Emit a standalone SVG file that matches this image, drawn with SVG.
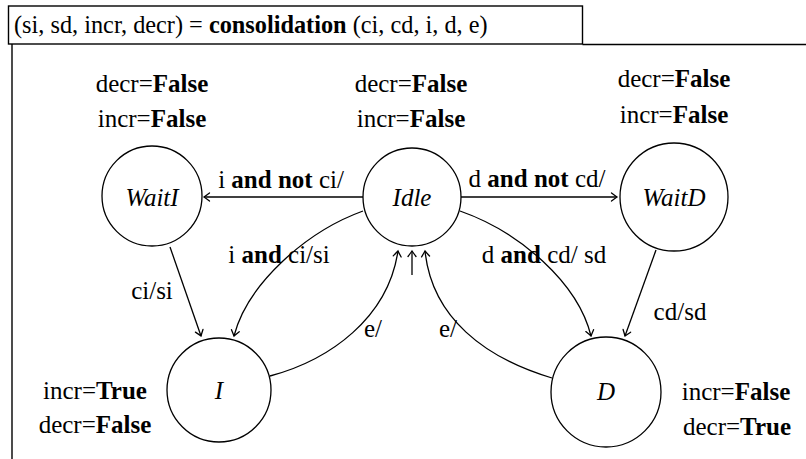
<svg xmlns="http://www.w3.org/2000/svg" width="806" height="459" viewBox="0 0 806 459">
<style>
text{font-family:"Liberation Serif","Times New Roman",serif;font-size:25px;fill:#000}
.t{font-size:24.3px}
.c{text-anchor:middle}
.b{font-weight:bold}
.it{font-style:italic}
.st{fill:#fff;stroke:#000;stroke-width:1.3}
.e{fill:none;stroke:#000;stroke-width:1.3}
.f{fill:none;stroke:#000;stroke-width:1.4}
</style>
<defs>
<marker id="ar" markerWidth="12" markerHeight="12" refX="0" refY="0" viewBox="-7 -6 9 12" orient="auto" markerUnits="userSpaceOnUse">
<path d="M-5.5,-4 Q-1.5,-1 0,0 Q-1.5,1 -5.5,4" fill="none" stroke="#000" stroke-width="1.3" stroke-linecap="round"/>
</marker>
</defs>
<g id="frame">
<rect x="8.5" y="6" width="574" height="38" class="f"/>
<path d="M12,459 V44 M582.5,44.5 H806" class="f"/>
<text class="t" x="14" y="33">(si, sd, incr, decr) = <tspan class="b">consolidation</tspan> (ci, cd, i, d, e)</text>
</g>
<g id="connectors">
<path class="e" d="M363,197 H204" marker-end="url(#ar)"/>
<path class="e" d="M461,197 H617" marker-end="url(#ar)"/>
<path class="e" d="M170,247 L201,336" marker-end="url(#ar)"/>
<path class="e" d="M363,211 C305,232 247,285 234,336" marker-end="url(#ar)"/>
<path class="e" d="M270,376 C330,360 388,318 398,251" marker-end="url(#ar)"/>
<path class="e" d="M412,275 V251" marker-end="url(#ar)"/>
<path class="e" d="M552,378 C485,358 432,318 425,251" marker-end="url(#ar)"/>
<path class="e" d="M460,211 C520,232 578,283 591,336" marker-end="url(#ar)"/>
<path class="e" d="M656,250 L625,336" marker-end="url(#ar)"/>
<text class="c" x="281" y="188">i <tspan class="b">and not</tspan> ci/</text>
<text class="c" x="537" y="187">d <tspan class="b">and not</tspan> cd/</text>
<text class="c" x="279" y="263">i <tspan class="b">and</tspan> ci/si</text>
<text class="c" x="152" y="299">ci/si</text>
<text class="c" x="373" y="337">e/</text>
<text class="c" x="544" y="263">d <tspan class="b">and</tspan> cd/ sd</text>
<text class="c" x="680" y="320">cd/sd</text>
<text class="c" x="448" y="337">e/</text>
</g>
<g id="WaitI">
<circle cx="152" cy="196" r="50" class="st"/>
<text class="c it" x="152" y="206">WaitI</text>
<text class="c" x="152" y="92">decr=<tspan class="b">False</tspan></text>
<text class="c" x="152" y="127">incr=<tspan class="b">False</tspan></text>
</g>
<g id="Idle">
<circle cx="412" cy="197" r="49" class="st"/>
<text class="c it" x="412" y="206">Idle</text>
<text class="c" x="411" y="92">decr=<tspan class="b">False</tspan></text>
<text class="c" x="411" y="127">incr=<tspan class="b">False</tspan></text>
</g>
<g id="WaitD">
<circle cx="674" cy="197" r="54" class="st"/>
<text class="c it" x="674" y="206">WaitD</text>
<text class="c" x="674" y="87">decr=<tspan class="b">False</tspan></text>
<text class="c" x="674" y="123">incr=<tspan class="b">False</tspan></text>
</g>
<g id="I">
<circle cx="219" cy="390" r="52" class="st"/>
<text class="c it" x="219" y="399">I</text>
<text class="c" x="95" y="399">incr=<tspan class="b">True</tspan></text>
<text class="c" x="95" y="433">decr=<tspan class="b">False</tspan></text>
</g>
<g id="D">
<circle cx="606" cy="392" r="55" class="st"/>
<text class="c it" x="606" y="400">D</text>
<text class="c" x="736" y="400">incr=<tspan class="b">False</tspan></text>
<text class="c" x="737" y="435">decr=<tspan class="b">True</tspan></text>
</g>
</svg>
